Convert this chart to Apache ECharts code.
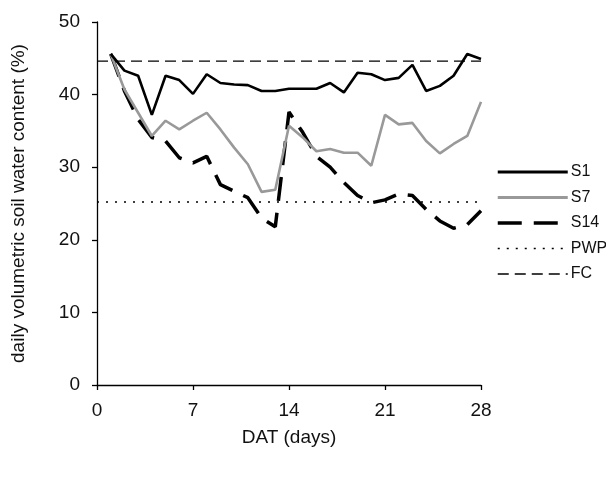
<!DOCTYPE html>
<html><head><meta charset="utf-8">
<script src="https://cdn.jsdelivr.net/npm/echarts@6/dist/echarts.min.js"></script>
<style>html,body{margin:0;padding:0;background:#fff}#c{width:606px;height:481px}</style>
</head><body><div id="c"></div>
<script>
const days = [1,2,3,4,5,6,7,8,9,10,11,12,13,14,15,16,17,18,19,20,21,22,23,24,25,26,27,28];
const s1 = [45.6,43.3,42.6,37.2,42.6,42.0,40.1,42.8,41.6,41.4,41.3,40.5,40.5,40.8,40.8,40.8,41.6,40.3,43.0,42.8,42.0,42.3,44.1,40.5,41.2,42.6,45.6,44.9];
const s7 = [45.6,40.7,37.5,34.3,36.4,35.2,36.4,37.5,35.2,32.7,30.4,26.6,26.9,35.7,34.1,32.2,32.5,32.0,32.0,30.2,37.2,35.9,36.1,33.6,31.9,33.2,34.3,39.0];
const s14 = [45.6,40.5,36.6,34.1,33.6,31.3,30.6,31.5,27.6,26.7,25.8,23.0,21.8,37.6,34.8,31.5,30.0,27.9,26.1,25.1,25.5,26.3,26.1,24.2,22.6,21.6,22.1,24.0];
const refX = [0,28];
const pwp = [25.2,25.2];
const fc = [44.6,44.6];

const pair = (xs, ys) => xs.map((x,i)=>[x, ys[i]]);
const font = 'Liberation Sans, Arial, sans-serif';
const chart = echarts.init(document.getElementById('c'), null, {renderer:'canvas'});
chart.setOption({
  animation:false,
  backgroundColor:'#fff',
  grid:{left:97,right:125,top:22,bottom:96},
  legend:{
    orient:'vertical', left:496, top:164, padding:0, itemWidth:70, itemHeight:14, itemGap:9.5,
    itemStyle:{opacity:0},
    textStyle:{fontFamily:font,fontSize:16,color:'#111',padding:[0,0,0,-2]},
    data:[
      {name:'S1', lineStyle:{width:3}},
      {name:'S7', lineStyle:{width:3}},
      {name:'S14', lineStyle:{width:3.5}},
      {name:'PWP', lineStyle:{width:1.5}},
      {name:'FC', lineStyle:{width:1.5}}
    ]
  },
  xAxis:{
    type:'value', min:0, max:28, interval:7,
    name:'DAT (days)', nameLocation:'middle', nameGap:43,
    nameTextStyle:{fontFamily:font,fontSize:19,color:'#111'},
    axisLine:{lineStyle:{color:'#000',width:1.3}},
    axisTick:{show:true,length:5,lineStyle:{color:'#000',width:1.3}},
    axisLabel:{fontFamily:font,fontSize:19,color:'#111',margin:16},
    splitLine:{show:false}
  },
  yAxis:{
    type:'value', min:0, max:50, interval:10,
    name:'daily volumetric soil water content (%)', nameLocation:'middle', nameGap:69, nameRotate:90,
    nameTextStyle:{fontFamily:font,fontSize:19,color:'#111'},
    axisLine:{show:true,lineStyle:{color:'#000',width:1.3}},
    axisTick:{show:true,length:5,lineStyle:{color:'#000',width:1.3}},
    axisLabel:{fontFamily:font,fontSize:19,color:'#111',margin:17},
    splitLine:{show:false}
  },
  series:[
    {name:'S1',type:'line',symbol:'none',data:pair(days,s1),lineStyle:{color:'#000',width:2.6},itemStyle:{color:'#000'},z:5},
    {name:'S7',type:'line',symbol:'none',data:pair(days,s7),lineStyle:{color:'#999',width:2.6},itemStyle:{color:'#999'},z:4},
    {name:'S14',type:'line',symbol:'none',data:pair(days,s14),lineStyle:{color:'#000',width:3.5,type:[24,12]},itemStyle:{color:'#000'},z:3},
    {name:'PWP',type:'line',symbol:'none',data:pair(refX,pwp),lineStyle:{color:'#000',width:1.5,type:[2,7]},itemStyle:{color:'#000'},z:2},
    {name:'FC',type:'line',symbol:'none',data:pair(refX,fc),lineStyle:{color:'#000',width:1.3,type:[11,6]},itemStyle:{color:'#000'},z:2}
  ]
});
</script></body></html>
